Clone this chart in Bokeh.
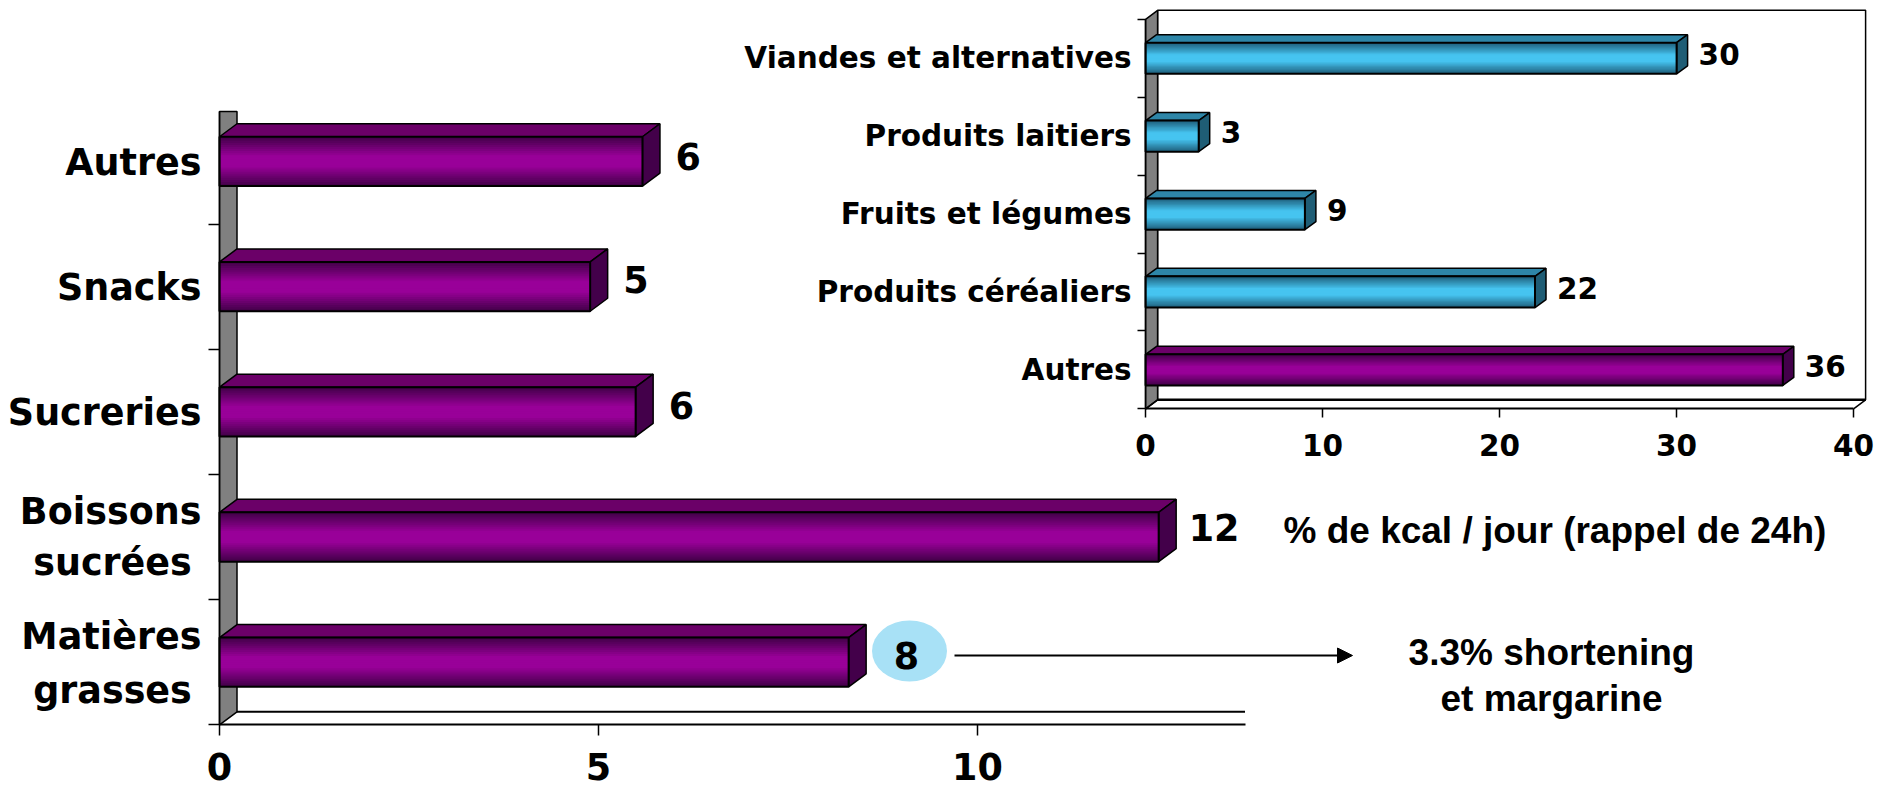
from bokeh.plotting import figure
from bokeh.embed import file_html
from bokeh.resources import INLINE
from bokeh.models import Range1d, LinearAxis, FixedTicker, Arrow, NormalHead
from bokeh.core.properties import value

# ---- data, bottom to top ----
main_categories = ["Matières\ngrasses", "Boissons\nsucrées", "Sucreries", "Snacks", "Autres"]
main_values = [8.3, 12.39, 5.49, 4.89, 5.58]
main_labels = ["8", "12", "6", "5", "6"]
main_ticks = [0, 5, 10]
inset_categories = ["Autres", "Produits céréaliers", "Fruits et légumes", "Produits laitiers", "Viandes et alternatives"]
inset_values = [36, 22, 9, 3, 30]
inset_labels = ["36", "22", "9", "3", "30"]
inset_ticks = [0, 10, 20, 30, 40]
note_lines = ["3.3% shortening", "et margarine"]
unit_text = "% de kcal / jour (rappel de 24h)"

W, H = 1877, 788
M = 0  # the bokeh page template zeroes the margin

# main chart frame, page pixels
MX0, MPX = 219.0, 75.8
MY0, MPY = 724.3, 125.2
# inset chart frame, page pixels
IX0, IPX = 1145.1, 17.7
IY0, IPY = 408.3, 77.9

def rng_x(x0, px):
    return Range1d((M - x0) / px, (M + W - x0) / px)
def rng_y(y0, py):
    return Range1d((y0 - M - H) / py, (y0 - M) / py)

p = figure(width=W, height=H, output_backend="svg", toolbar_location=None,
           x_range=rng_x(MX0, MPX), y_range=rng_y(MY0, MPY),
           x_axis_type=None, y_axis_type=None, min_border=0,
           outline_line_color=None, background_fill_color="white", border_fill_color="white")
p.grid.visible = False
p.extra_x_ranges["ix"] = rng_x(IX0, IPX)
p.extra_y_ranges["iy"] = rng_y(IY0, IPY)

DJ = value("DejaVu Sans")
LS = value("Liberation Sans")
GRAY = "#808080"
PURPLE = dict(edge=(0x40, 0x00, 0x46), mid=(0x99, 0x00, 0x99), top="#6B0068", side="#43004A")
BLUE = dict(edge=(0x1D, 0x5C, 0x78), mid=(0x46, 0xC4, 0xF0), top="#2E86A8", side="#1F5D75")

def hexc(a, b, t):
    return "#%02x%02x%02x" % tuple(round(a[i] + (b[i] - a[i]) * t) for i in range(3))

def bar3d(val, centre, half, dx, dy, c, xr, yr, n=24):
    """gradient front + top and side faces of one 3-D bar"""
    kw = {}
    if xr:
        kw = dict(x_range_name=xr, y_range_name=yr)
    xs_top = [0, dx, val + dx, val]
    ys_top = [centre + half, centre + half + dy, centre + half + dy, centre + half]
    p.patch(xs_top, ys_top, fill_color=c["top"], line_color="black", line_width=1.5, **kw)
    xs_side = [val, val + dx, val + dx, val]
    ys_side = [centre + half, centre + half + dy, centre - half + dy, centre - half]
    p.patch(xs_side, ys_side, fill_color=c["side"], line_color="black", line_width=1.5, **kw)
    tops, bots, cols = [], [], []
    for k in range(n):
        t0 = k / n
        t1 = (k + 1) / n
        tops.append(centre + half - 2 * half * t0)
        bots.append(centre - half)  # painted over each other: no seams
        tc = (t0 + t1) / 2
        f = 1 - abs(tc - 0.5) * 2
        cols.append(hexc(c["edge"], c["mid"], min(1, f * 1.25)))
    p.quad(left=[0] * n, right=[val] * n, top=tops, bottom=bots, fill_color=cols, line_color=None, **kw)
    p.quad(left=[0], right=[val], top=[centre + half], bottom=[centre - half], fill_color=None,
           line_color="black", line_width=2, **kw)

# ---- main chart ----
mdx, mdy = 17.5 / MPX, 13 / MPY
m_top = (MY0 - 111) / MPY
m_end = (1244.5 - MX0) / MPX
p.patch([0, mdx, mdx, 0], [0, mdy, m_top, m_top], fill_color=GRAY, line_color="black", line_width=1.5)
p.line([mdx, m_end], [mdy, mdy], line_color="black", line_width=2)

xa = LinearAxis(ticker=FixedTicker(ticks=main_ticks), bounds=(0, m_end), fixed_location=0,
                axis_line_color="black", axis_line_width=2, major_tick_line_color="black",
                major_tick_line_width=1.5, major_tick_out=11, major_tick_in=0, minor_tick_out=0, minor_tick_in=0,
                major_label_text_font="DejaVu Sans", major_label_text_font_style="bold",
                major_label_text_font_size="36.5px", major_label_text_color="black",
                major_label_standoff=17)
p.add_layout(xa, "below")
ya = LinearAxis(ticker=FixedTicker(ticks=[0, 1, 2, 3, 4]), bounds=(0, m_top), fixed_location=0,
                axis_line_color="black", axis_line_width=1.5, major_tick_line_color="black",
                major_tick_line_width=1.5, major_tick_out=11, major_tick_in=0, minor_tick_out=0, minor_tick_in=0,
                major_label_overrides={i: "" for i in range(5)}, major_label_text_font_size="1px")
p.add_layout(ya, "left")

for i, v in enumerate(main_values):
    bar3d(v, i + 0.5, 0.197, mdx, mdy, PURPLE, None, None)

# category labels
tx, ty, ta, txo, tyo = [], [], [], [], []
for i, c in enumerate(main_categories):
    parts = c.split("\n")
    if len(parts) == 1:
        tx.append(0); ty.append(i + 0.5); ta.append("right"); txo.append(-18); tyo.append(1)
    else:
        below = 28.5 if i == 0 else 25.5
        tx.append(0); ty.append(i + 0.5); ta.append("right"); txo.append(-18); tyo.append(-25.5)
        tx.append(0); ty.append(i + 0.5); ta.append("center"); txo.append(-107); tyo.append(below)
tt = []
for c in main_categories:
    tt.extend(c.split("\n"))
p.text(x=tx, y=ty, text=tt, x_offset=txo, y_offset=tyo, text_align=ta, text_baseline="middle",
       text_font=DJ, text_font_style="bold", text_font_size="36.5px", text_color="black")

# bubble behind the value of the first bar, arrow and note
bub_x = (909 - MX0) / MPX
bub_y = (MY0 - 650.5) / MPY
p.ellipse(x=[bub_x], y=[bub_y], width=[75], height=[61], width_units="screen", height_units="screen",
          fill_color="#A8E1F6", line_color=None)
p.text(x=main_values, y=[i + 0.5 for i in range(5)], text=main_labels,
       x_offset=[45, 30, 33, 33, 33], y_offset=[-7, -10, -6, -7, -5],
       text_align="left", text_baseline="middle",
       text_font=DJ, text_font_style="bold", text_font_size="36.5px", text_color="black")
arrow_y = (MY0 - 655) / MPY
p.add_layout(Arrow(end=NormalHead(size=15, fill_color="black", line_color="black"),
                   x_start=(954 - MX0) / MPX, y_start=arrow_y,
                   x_end=(1352 - MX0) / MPX, y_end=arrow_y, line_color="black", line_width=2))
p.text(x=[(1551 - MX0) / MPX] * 2, y=[(MY0 - 652) / MPY, (MY0 - 698) / MPY], text=note_lines,
       text_align="center", text_baseline="middle", text_font=LS, text_font_style="bold",
       text_font_size="37px", text_color="black")
p.text(x=[(1283 - MX0) / MPX], y=[(MY0 - 530) / MPY], text=[unit_text],
       text_align="left", text_baseline="middle", text_font=LS, text_font_style="bold",
       text_font_size="37px", text_color="black")

# ---- inset chart ----
ikw = dict(x_range_name="ix", y_range_name="iy")
idx, idy = 12 / IPX, 9 / IPY
i_top = 5
i_end = 40
p.patch([idx, i_end + idx, i_end + idx, idx], [idy, idy, i_top + idy, i_top + idy], fill_color="white",
        line_color="black", line_width=1.5, **ikw)
p.patch([0, idx, idx, 0], [0, idy, i_top + idy, i_top], fill_color=GRAY, line_color="black", line_width=1.5, **ikw)
p.line([idx, i_end + idx], [idy, idy], line_color="black", line_width=2.5, **ikw)
p.line([i_end, i_end + idx], [0, idy], line_color="black", line_width=1.5, **ikw)
p.line([0, idx], [0, idy], line_color="black", line_width=1.5, **ikw)

ixa = LinearAxis(ticker=FixedTicker(ticks=inset_ticks), bounds=(0, i_end), fixed_location=0,
                 x_range_name="ix", y_range_name="iy",
                 axis_line_color="black", axis_line_width=2, major_tick_line_color="black",
                 major_tick_line_width=1.5, major_tick_out=9, major_tick_in=0, minor_tick_out=0, minor_tick_in=0,
                 major_label_text_font="DejaVu Sans", major_label_text_font_style="bold",
                 major_label_text_font_size="29.5px", major_label_text_color="black",
                 major_label_standoff=16)
p.add_layout(ixa, "below")
iya = LinearAxis(ticker=FixedTicker(ticks=[0, 1, 2, 3, 4, 5]), bounds=(0, i_top), fixed_location=0,
                 x_range_name="ix", y_range_name="iy",
                 axis_line_color="black", axis_line_width=1.5, major_tick_line_color="black",
                 major_tick_line_width=1.5, major_tick_out=8, major_tick_in=0, minor_tick_out=0, minor_tick_in=0,
                 major_label_overrides={i: "" for i in range(6)}, major_label_text_font_size="1px")
p.add_layout(iya, "left")

for i, v in enumerate(inset_values):
    bar3d(v, i + 0.5, 0.2, 11 / IPX, 8 / IPY, PURPLE if i == 0 else BLUE, "ix", "iy")

p.text(x=[0] * 5, y=[i + 0.5 for i in range(5)], text=inset_categories, x_offset=-14, y_offset=0,
       text_align="right", text_baseline="middle", text_font=DJ, text_font_style="bold",
       text_font_size="29.5px", text_color="black", **ikw)
p.text(x=inset_values, y=[i + 0.5 for i in range(5)], text=inset_labels, x_offset=22, y_offset=-4,
       text_align="left", text_baseline="middle", text_font=DJ, text_font_style="bold",
       text_font_size="29.5px", text_color="black", **ikw)

open("out.html", "w").write(file_html(p, INLINE))
